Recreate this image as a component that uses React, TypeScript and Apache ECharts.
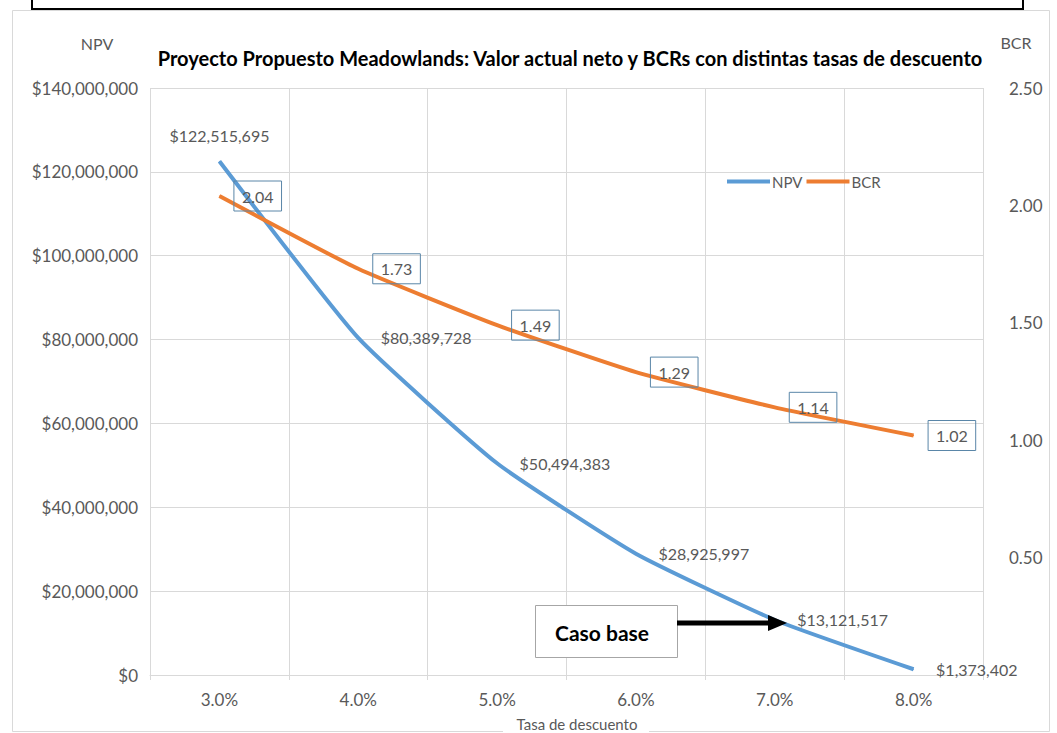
import React, { useEffect, useRef } from "react";
import * as echarts from "echarts";

const categories = ["3.0%", "4.0%", "5.0%", "6.0%", "7.0%", "8.0%"];
const npvValues = [122515695, 80389728, 50494383, 28925997, 13121517, 1373402];
const bcrValues = [2.04, 1.73, 1.49, 1.29, 1.14, 1.02];
const npvTicks = { min: 0, max: 140000000, interval: 20000000 };
const bcrTicks = { min: 0, max: 2.5, interval: 0.5 };

const FONT = "Lato";
const GRAY = "#595959";
const GRID = "#d9d9d9";
const BLUE = "#5B9BD5";
const ORANGE = "#ED7D31";

const money = (v: number) => "$" + Math.round(v).toLocaleString("en-US");

export default function App() {
  const ref = useRef<HTMLDivElement>(null);
  useEffect(() => {
    if (!ref.current) return;
    const chart = echarts.init(ref.current, null, { renderer: "svg" });
    const option: any = {
      animation: false,
      backgroundColor: "#ffffff",
      textStyle: { fontFamily: FONT },
      title: {
        text: "Proyecto Propuesto Meadowlands: Valor actual neto y BCRs con distintas tasas de descuento",
        left: 565,
        top: 43,
        textAlign: "center",
        textStyle: { fontFamily: FONT, fontWeight: "bold", fontSize: 20, color: "#000" },
      },
      legend: {
        left: 722,
        top: 169,
        itemWidth: 43,
        itemHeight: 4,
        itemGap: 4,
        icon: "rect",
        textStyle: { fontFamily: FONT, fontSize: 15, color: GRAY, padding: [0, 0, 0, -3] },
        data: ["NPV", "BCR"],
      },
      grid: { left: 150, right: 74, top: 88, bottom: 58 },
      xAxis: {
        type: "category",
        data: categories,
        boundaryGap: true,
        axisLine: { show: true, lineStyle: { color: GRID } },
        axisTick: { show: true, length: 5, lineStyle: { color: GRID } },
        splitLine: { show: true, lineStyle: { color: GRID } },
        axisLabel: { fontFamily: FONT, fontSize: 17, color: GRAY, margin: 16 },
      },
      yAxis: [
        {
          type: "value",
          min: npvTicks.min,
          max: npvTicks.max,
          interval: npvTicks.interval,
          axisLine: { show: false },
          axisTick: { show: false },
          splitLine: { show: true, lineStyle: { color: GRID } },
          axisLabel: { fontFamily: FONT, fontSize: 17, color: GRAY, margin: 12, formatter: (v: number) => money(v) },
        },
        {
          type: "value",
          min: bcrTicks.min,
          max: bcrTicks.max,
          interval: bcrTicks.interval,
          axisLine: { show: false },
          axisTick: { show: false },
          splitLine: { show: false },
          axisLabel: {
            fontFamily: FONT,
            fontSize: 17,
            color: GRAY,
            margin: 26,
            formatter: (v: number) => (v === 0 ? "" : v.toFixed(2)),
          },
        },
      ],
      series: [
        {
          name: "NPV",
          type: "line",
          yAxisIndex: 0,
          smooth: 0.15,
          symbol: "circle",
          symbolSize: 1,
          itemStyle: { color: BLUE },
          lineStyle: { color: BLUE, width: 4 },
          label: {
            show: true,
            position: "right",
            distance: 22,
            fontFamily: FONT,
            fontSize: 16,
            color: GRAY,
            formatter: (p: any) => money(p.value),
          },
          data: npvValues.map((v, i) =>
            i === 0 ? { value: v, label: { position: "top", distance: 17 } } : v
          ),
        },
        {
          name: "BCR",
          type: "line",
          yAxisIndex: 1,
          smooth: 0.15,
          symbol: "circle",
          symbolSize: 1,
          itemStyle: { color: ORANGE },
          lineStyle: { color: ORANGE, width: 4 },
          label: {
            show: true,
            position: "right",
            distance: 14,
            fontFamily: FONT,
            fontSize: 16,
            color: GRAY,
            borderColor: "#5a86a8",
            borderWidth: 1,
            padding: [8, 8, 6, 8],
            formatter: (p: any) => p.value.toFixed(2),
          },
          data: bcrValues,
        },
      ],
      graphic: [
        {
          type: "rect",
          silent: true,
          z: -10,
          shape: { x: 12.5, y: 10.5, width: 1037, height: 721 },
          style: { fill: "none", stroke: GRID, lineWidth: 1 },
        },
        {
          type: "rect",
          silent: true,
          shape: { x: 32, y: -20, width: 991, height: 29 },
          style: { fill: "none", stroke: "#000", lineWidth: 2 },
        },
        {
          type: "rect",
          silent: true,
          shape: { x: 503, y: 720, width: 146, height: 13 },
          style: { fill: "#fff" },
        },
        {
          type: "text",
          x: 577,
          y: 724,
          style: {
            text: "Tasa de descuento",
            fontFamily: FONT,
            fontSize: 15,
            fill: GRAY,
            align: "center",
            verticalAlign: "middle",
          },
        },
        {
          type: "text",
          x: 97,
          y: 43,
          style: { text: "NPV", fontFamily: FONT, fontSize: 16, fill: GRAY, align: "center", verticalAlign: "middle" },
        },
        {
          type: "text",
          x: 1016,
          y: 42,
          style: { text: "BCR", fontFamily: FONT, fontSize: 16, fill: GRAY, align: "center", verticalAlign: "middle" },
        },
        {
          type: "rect",
          z: 100,
          shape: { x: 535.5, y: 605.5, width: 142, height: 52 },
          style: { fill: "#fff", stroke: "#a6a6a6", lineWidth: 1 },
        },
        {
          type: "text",
          z: 101,
          x: 602,
          y: 632,
          style: {
            text: "Caso base",
            fontFamily: FONT,
            fontSize: 21,
            fontWeight: "bold",
            fill: "#000",
            align: "center",
            verticalAlign: "middle",
          },
        },
        {
          type: "line",
          z: 100,
          shape: { x1: 677, y1: 623, x2: 772, y2: 623 },
          style: { stroke: "#000", lineWidth: 5 },
        },
        {
          type: "polygon",
          z: 100,
          shape: { points: [[768, 615], [787, 623], [768, 631]] },
          style: { fill: "#000" },
        },
      ],
    };
    chart.setOption(option);
    return () => chart.dispose();
  }, []);
  return (
    <div
      ref={ref}
      style={{ position: "fixed", left: 0, top: 0, width: 1057, height: 733 }}
    />
  );
}
